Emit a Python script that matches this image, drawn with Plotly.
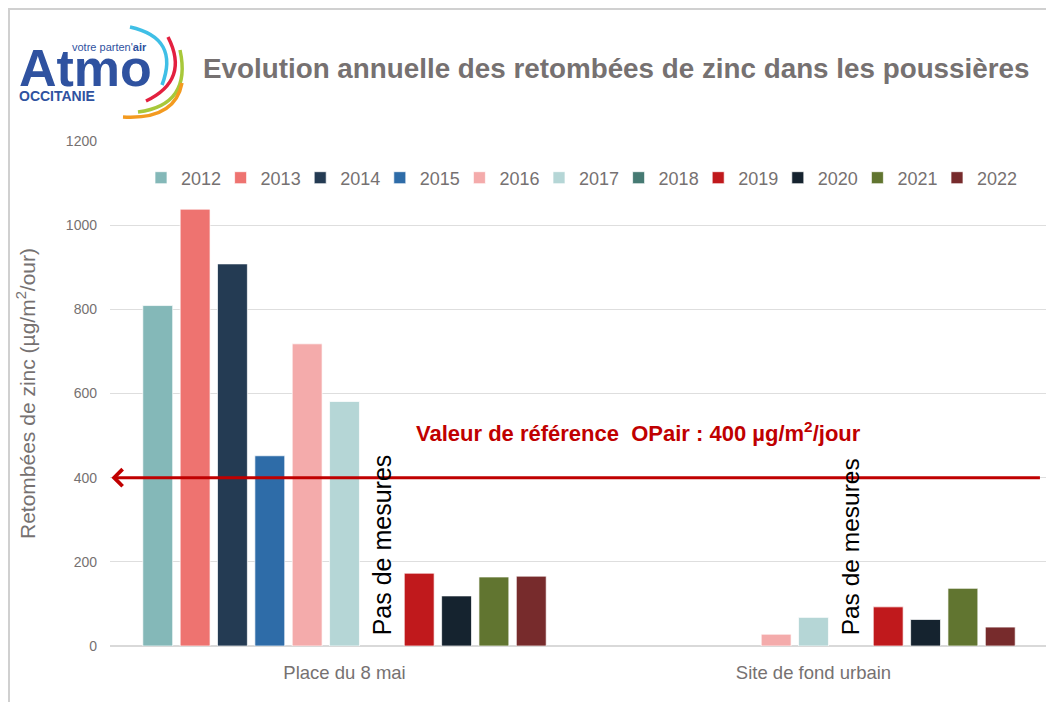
import plotly.graph_objects as go

categories = ["Place du 8 mai", "Site de fond urbain"]
years = ["2012", "2013", "2014", "2015", "2016", "2017", "2018", "2019", "2020", "2021", "2022"]
v2012 = [809, None]
v2013 = [1038, None]
v2014 = [908, None]
v2015 = [452, None]
v2016 = [718, 28]
v2017 = [581, 68]
v2018 = [None, None]
v2019 = [173, 93]
v2020 = [119, 63]
v2021 = [164, 137]
v2022 = [166, 45]
series = [v2012, v2013, v2014, v2015, v2016, v2017, v2018, v2019, v2020, v2021, v2022]
colors = ["#84b8b8", "#ee7370", "#243b53", "#2e6ca8", "#f4abab", "#b5d6d6",
          "#467a73", "#c0191c", "#15232f", "#617530", "#772b2c"]
reference_value = 400
y_ticks = [0, 200, 400, 600, 800, 1000, 1200]

FONT = "Liberation Sans, Arial, sans-serif"
GRAY = "#767171"

# the page body adds an 8 px margin: the figure is sized to fit inside the window
OFF = 8
W, H = 1054 - OFF, 702 - OFF
ML, MR, MT, MB = 110 - OFF, W - (1048 - OFF), 141 - OFF, H - (646 - OFF)
PW, PH = W - ML - MR, H - MT - MB


def px(sx):
    return (sx - OFF - ML) / PW


def py(sy):
    return (H - MB - (sy - OFF)) / PH


fig = go.Figure()
for yr, vals, col in zip(years, series, colors):
    fig.add_trace(go.Bar(name=yr, x=categories, y=vals, marker_color=col,
                         marker_line=dict(color="rgba(255,255,255,0.7)", width=1)))

slot = (1 - 0.124) / len(years)
off2018 = (years.index("2018") - (len(years) - 1) / 2) * slot

annotations = [
    dict(x=-0.497, y=reference_value, ax=1.486, ay=reference_value, xref="x", yref="y",
         axref="x", ayref="y", text="", showarrow=True, arrowhead=4, arrowsize=1.1,
         arrowwidth=3, arrowcolor="#c00000", standoff=0, startstandoff=0),
    dict(x=0.627, y=508, xref="x", yref="y", showarrow=False,
         text="<b>Valeur de référence  OPair : 400 µg/m<sup>2</sup>/jour</b>",
         font=dict(family=FONT, size=22, color="#c00000")),
    dict(x=0 + off2018, y=0, xref="x", yref="y", yanchor="bottom", yshift=9,
         showarrow=False, textangle=-90, text="Pas de mesures",
         font=dict(family=FONT, size=25, color="#000000")),
    dict(x=1 + off2018, y=0, xref="x", yref="y", yanchor="bottom", yshift=9,
         showarrow=False, textangle=-90, text="Pas de mesures",
         font=dict(family=FONT, size=24.5, color="#000000")),
    dict(x=px(616), y=py(68), xref="paper", yref="paper", xanchor="center", yanchor="middle",
         showarrow=False,
         text="<b>Evolution annuelle des retombées de zinc dans les poussières</b>",
         font=dict(family=FONT, size=27.8, color=GRAY)),
    # logo texts
    dict(x=px(17), y=py(68), xref="paper", yref="paper", xanchor="left", yanchor="middle",
         showarrow=False, text="<b>Atmo</b>",
         font=dict(family=FONT, size=52, color="#2f52a0")),
    dict(x=px(70), y=py(47), xref="paper", yref="paper", xanchor="left", yanchor="middle",
         showarrow=False, text="votre parten'<b>air</b>",
         font=dict(family=FONT, size=11, color="#2f52a0")),
    dict(x=px(17), y=py(96), xref="paper", yref="paper", xanchor="left", yanchor="middle",
         showarrow=False, text="<b>OCCITANIE</b>",
         font=dict(family=FONT, size=14, color="#2f52a0")),
]

shapes = [
    dict(type="rect", xref="paper", yref="paper", x0=px(9), x1=px(1100), y0=py(760), y1=py(9),
         line=dict(color="#d0d0d0", width=2), fillcolor="rgba(0,0,0,0)", layer="below"),
]


def arc(points, color):
    (x0, y0), (cx, cy), (x1, y1) = points
    path = f"M {px(x0)},{py(y0)} Q {px(cx)},{py(cy)} {px(x1)},{py(y1)}"
    return dict(type="path", xref="paper", yref="paper", path=path,
                line=dict(color=color, width=3.5))


shapes += [
    arc([(130, 27), (180, 38), (162, 85)], "#3fbfe6"),
    arc([(168, 37), (190, 80), (146, 101)], "#e3203f"),
    arc([(180, 50), (192, 105), (138, 112)], "#a8c83a"),
    arc([(182, 83), (175, 120), (123, 117)], "#f39a1f"),
]

fig.update_layout(
    width=W, height=H,
    margin=dict(l=ML, r=MR, t=MT, b=MB),
    paper_bgcolor="white", plot_bgcolor="white",
    barmode="group", bargap=0.124, bargroupgap=0.2,
    showlegend=True,
    legend=dict(orientation="h", x=px(579), y=py(178), xanchor="center", yanchor="middle",
                font=dict(family=FONT, size=18, color=GRAY), traceorder="normal",
                itemwidth=30, entrywidth=34.6, entrywidthmode="pixels",
                bgcolor="rgba(0,0,0,0)"),
    xaxis=dict(type="category", range=[-0.5, 1.5], showgrid=False, showline=True,
               linecolor="#d9d9d9", linewidth=1, ticks="", ticklabelstandoff=10,
               tickfont=dict(family=FONT, size=18.5, color=GRAY)),
    yaxis=dict(range=[0, 1200], tickvals=y_ticks, showgrid=True, gridcolor="#dedede",
               gridwidth=1, zeroline=True, zerolinecolor="#d9d9d9", showline=False,
               ticks="", ticklabelstandoff=12,
               tickfont=dict(family=FONT, size=14, color=GRAY),
               title=dict(text="Retombées de zinc (µg/m<sup>2</sup>/our)",
                          font=dict(family=FONT, size=21, color=GRAY), standoff=24)),
    annotations=annotations,
    shapes=shapes,
)

fig.write_html("out.html")
